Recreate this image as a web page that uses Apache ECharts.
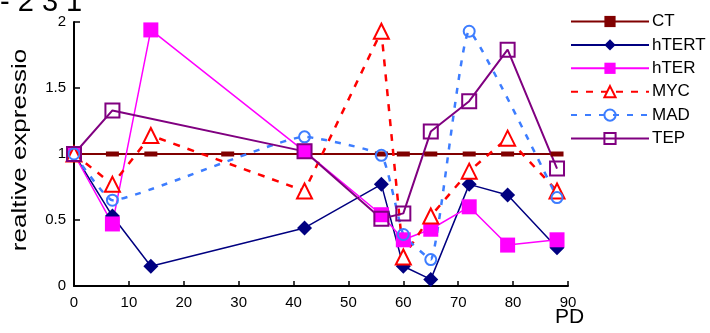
<!DOCTYPE html>
<html><head><meta charset="utf-8">
<script src="https://cdn.jsdelivr.net/npm/echarts@6/dist/echarts.min.js"></script>
<style>html,body{margin:0;padding:0;background:#fff}#c{width:710px;height:333px}</style>
</head><body><div id="c"></div>
<script>
var ctPD = [0, 7, 14, 28, 42, 56, 60, 65, 72, 79, 88];
var ctVal = [1, 1, 1, 1, 1, 1, 1, 1, 1, 1, 1];
var htertPD = [0, 7, 14, 42, 56, 60, 65, 72, 79, 88];
var htertVal = [1, 0.53, 0.15, 0.44, 0.77, 0.15, 0.05, 0.77, 0.69, 0.29];
var hterPD = [0, 7, 14, 42, 56, 60, 65, 72, 79, 88];
var hterVal = [1, 0.47, 1.94, 1.02, 0.54, 0.35, 0.43, 0.6, 0.31, 0.35];
var mycPD = [0, 7, 14, 42, 56, 60, 65, 72, 79, 88];
var mycVal = [1, 0.77, 1.14, 0.72, 1.93, 0.22, 0.53, 0.87, 1.12, 0.72];
var madPD = [0, 7, 42, 56, 60, 65, 72, 88];
var madVal = [1, 0.65, 1.13, 0.99, 0.39, 0.2, 1.93, 0.67];
var tepPD = [0, 7, 42, 56, 60, 65, 72, 79, 88];
var tepVal = [1, 1.33, 1.02, 0.51, 0.55, 1.17, 1.4, 1.79, 0.89];
var xTicks = [0, 10, 20, 30, 40, 50, 60, 70, 80, 90];
var yTicks = [0, 0.5, 1, 1.5, 2];

function pts(xs, ys) { return xs.map(function (x, i) { return [x, ys[i]]; }); }

var font = '"Liberation Sans", Arial, sans-serif';
var chart = echarts.init(document.getElementById('c'), null, {renderer: 'canvas'});
chart.setOption({
  animation: false,
  backgroundColor: '#fff',
  grid: {left: 74, right: 142, top: 22, bottom: 47},
  graphic: [
    {type: 'text', left: 0, top: -12, style: {text: '- 2 3 1', font: '29px ' + font, fill: '#000'}},
    {type: 'text', x: 20, y: 150, rotation: Math.PI / 2, scaleX: 1.3,
     style: {text: 'realtive expressio', font: '20px ' + font, fill: '#000', textAlign: 'center', textVerticalAlign: 'middle'}},
    {type: 'text', left: 555, top: 307, style: {text: 'PD', font: '21px ' + font, fill: '#000'}}
  ],
  legend: {
    orient: 'vertical', left: 565, top: 8, itemWidth: 78, itemHeight: 14, itemGap: 6.4,
    textStyle: {fontFamily: font, fontSize: 17, color: '#000', padding: [0, 0, 0, -2]},
    data: ['CT', 'hTERT', 'hTER', 'MYC', 'MAD', 'TEP']
  },
  xAxis: {
    type: 'value', min: 0, max: 90, interval: 10,
    axisLine: {lineStyle: {color: '#000', width: 2}},
    axisTick: {inside: true, length: 5, lineStyle: {color: '#000', width: 1.5}},
    axisLabel: {fontFamily: font, fontSize: 15, color: '#000', margin: 9,
      formatter: function (v) { return xTicks.indexOf(v) >= 0 ? String(v) : ''; }},
    splitLine: {show: false}
  },
  yAxis: {
    type: 'value', min: 0, max: 2, interval: 0.5,
    axisLine: {show: true, lineStyle: {color: '#000', width: 2}},
    axisTick: {show: true, inside: true, length: 6, lineStyle: {color: '#000', width: 1.5}},
    axisLabel: {fontFamily: font, fontSize: 15, color: '#000', margin: 8,
      formatter: function (v) { return yTicks.indexOf(v) >= 0 ? String(v) : ''; }},
    splitLine: {show: false}
  },
  series: [
    {name: 'CT', type: 'line', data: pts(ctPD, ctVal), symbol: 'rect', symbolSize: [13, 5],
     itemStyle: {color: '#800000'}, lineStyle: {color: '#800000', width: 2}},
    {name: 'hTERT', type: 'line', data: pts(htertPD, htertVal), symbol: 'diamond', symbolSize: 15,
     itemStyle: {color: '#000080'}, lineStyle: {color: '#000080', width: 1.5}},
    {name: 'hTER', type: 'line', data: pts(hterPD, hterVal), symbol: 'rect', symbolSize: 15,
     itemStyle: {color: '#ff00ff'}, lineStyle: {color: '#ff00ff', width: 1.5}},
    {name: 'MYC', type: 'line', data: pts(mycPD, mycVal), symbol: 'triangle', symbolSize: 15,
     itemStyle: {color: '#fff', borderColor: '#ff0000', borderWidth: 2},
     lineStyle: {color: '#ff0000', width: 2.5, type: [7, 8]}},
    {name: 'MAD', type: 'line', data: pts(madPD, madVal), symbol: 'circle', symbolSize: 11, smooth: 0.12,
     itemStyle: {color: 'rgba(255,255,255,0)', borderColor: '#3d7dff', borderWidth: 2},
     lineStyle: {color: '#3d7dff', width: 2.5, type: [6, 8]}},
    {name: 'TEP', type: 'line', data: pts(tepPD, tepVal), symbol: 'rect', symbolSize: 14,
     itemStyle: {color: 'rgba(255,255,255,0)', borderColor: '#800080', borderWidth: 2},
     lineStyle: {color: '#800080', width: 2}}
  ]
});
</script></body></html>
